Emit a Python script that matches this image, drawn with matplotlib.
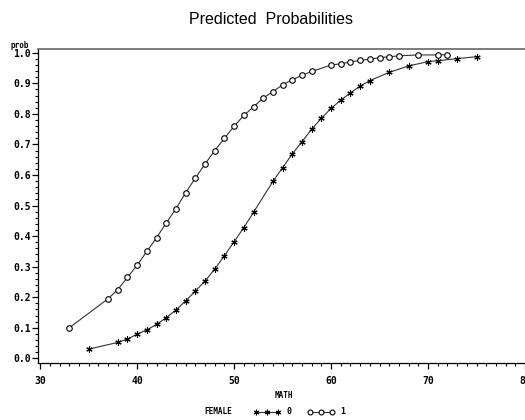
import matplotlib.pyplot as plt
from matplotlib.lines import Line2D
from matplotlib.ticker import MultipleLocator
import numpy as np

# female = 1 (circles)
math_f1 = [33, 37, 38, 39, 40, 41, 42, 43, 44, 45, 46, 47, 48, 49, 50, 51, 52,
           53, 54, 55, 56, 57, 58, 60, 61, 62, 63, 64, 65, 66, 67, 69, 71, 72]
prob_f1 = [0.100, 0.195, 0.225, 0.265, 0.305, 0.350, 0.395, 0.443, 0.490, 0.542,
           0.590, 0.636, 0.680, 0.720, 0.760, 0.795, 0.823, 0.852, 0.873, 0.895,
           0.912, 0.926, 0.939, 0.960, 0.964, 0.970, 0.975, 0.979, 0.984, 0.987,
           0.990, 0.993, 0.993, 0.994]

# female = 0 (stars)
math_f0 = [35, 38, 39, 40, 41, 42, 43, 44, 45, 46, 47, 48, 49, 50, 51, 52, 54,
           55, 56, 57, 58, 59, 60, 61, 62, 63, 64, 66, 68, 70, 71, 73, 75]
prob_f0 = [0.030, 0.052, 0.063, 0.079, 0.093, 0.111, 0.133, 0.158, 0.188, 0.220,
           0.253, 0.292, 0.336, 0.382, 0.428, 0.478, 0.579, 0.624, 0.669, 0.709,
           0.750, 0.786, 0.818, 0.845, 0.869, 0.891, 0.909, 0.936, 0.957, 0.971,
           0.974, 0.981, 0.987]

mono = {'family': 'DejaVu Sans Mono', 'weight': 'bold'}
star = (6, 2, 0)

fig = plt.figure(figsize=(5.25, 4.2), dpi=100)
ax = fig.add_axes([38.3 / 525, 57 / 420, 1 - 38.3 / 525, 314 / 420])

ax.plot(math_f0, prob_f0, color='#333333', lw=0.8, marker=star, ms=4.5,
        mec='black', mew=0.8)
ax.plot(math_f1, prob_f1, color='#333333', lw=0.8, marker='o', ms=4,
        mfc='white', mec='black', mew=0.8)

ax.set_xlim(29.8, 80.0)
ax.set_ylim(-0.0154, 1.0124)
ax.xaxis.set_major_locator(MultipleLocator(10))
ax.xaxis.set_minor_locator(MultipleLocator(1))
ax.yaxis.set_major_locator(MultipleLocator(0.1))
ax.yaxis.set_minor_locator(MultipleLocator(0.02))
ax.tick_params(which='major', direction='out', length=4.5, width=0.9, pad=1)
ax.tick_params(which='minor', direction='out', length=2.5, width=0.8)
ax.tick_params(axis='x', which='major', pad=5)
ax.set_yticks(np.arange(0, 1.01, 0.1))
ax.set_yticklabels([f'{v:.1f}' for v in np.arange(0, 1.01, 0.1)], fontdict=mono, fontsize=7)
ax.set_xticks([30, 40, 50, 60, 70, 80])
ax.set_xticklabels(['30', '40', '50', '60', '70', '80'], fontdict=mono, fontsize=7)

ax.spines['right'].set_visible(False)
ax.spines['top'].set_color('#666666')
ax.spines['top'].set_linewidth(1.2)
ax.spines['left'].set_linewidth(0.9)
ax.spines['bottom'].set_linewidth(0.9)

fig.text(271 / 525, 1 - 19 / 420, 'Predicted  Probabilities', ha='center', va='center',
         family='Liberation Sans', fontsize=11.5)
fig.text(19.3 / 525, 1 - 45 / 420, 'prob', ha='center', va='center', fontsize=5.5, **mono)
fig.text(283.7 / 525, 1 - 396 / 420, 'MATH', ha='center', va='center', fontsize=5.5, **mono)
fig.text(218.7 / 525, 1 - 412 / 420, 'FEMALE', ha='center', va='center', fontsize=5.5, **mono)

handles = [Line2D([], [], color='#333333', lw=0.8, marker=star, ms=4, mec='black', mew=0.8),
           Line2D([], [], color='#333333', lw=0.8, marker='o', ms=3.5, mfc='white', mec='black', mew=0.8)]
leg = fig.legend(handles, ['0', '1'], ncol=2, numpoints=3, frameon=False,
                 loc='center left', bbox_to_anchor=(249 / 525, 1 - 412 / 420),
                 handlelength=3.3, handletextpad=0.7, columnspacing=1.9,
                 borderpad=0, prop={'family': 'DejaVu Sans Mono', 'weight': 'bold', 'size': 6})

fig.savefig('out.png', dpi=100)
